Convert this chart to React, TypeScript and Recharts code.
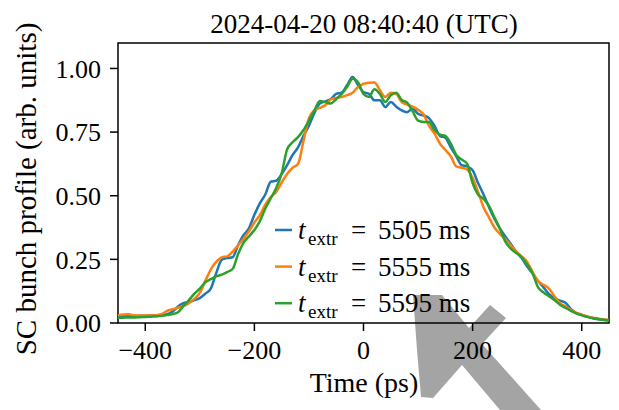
import React from "react";
import { LineChart, Line, XAxis, YAxis, ReferenceArea, Customized } from "recharts";

// bunch profile samples, one value per time bin (ps)
const timePs = [
  -450, -440, -430, -420, -410, -400, -390, -380, -370, -360,
  -350, -340, -330, -320, -310, -300, -290, -280, -270, -260,
  -250, -240, -230, -220, -210, -200, -190, -180, -170, -160,
  -150, -140, -130, -120, -110, -100, -90, -80, -70, -60,
  -50, -40, -30, -20, -10, 0, 10, 20, 30, 40,
  50, 60, 70, 80, 90, 100, 110, 120, 130, 140,
  150, 160, 170, 180, 190, 200, 210, 220, 230, 240,
  250, 260, 270, 280, 290, 300, 310, 320, 330, 340,
  350, 360, 370, 380, 390, 400, 410, 420, 430, 440,
  450,
];

const profile5505 = [
  0.025, 0.026, 0.027, 0.027, 0.028, 0.028, 0.029, 0.030, 0.032, 0.035,
  0.045, 0.065, 0.078, 0.082, 0.090, 0.098, 0.115, 0.135, 0.196, 0.248,
  0.255, 0.258, 0.305, 0.345, 0.372, 0.425, 0.470, 0.505, 0.555, 0.559,
  0.585, 0.620, 0.660, 0.690, 0.735, 0.775, 0.825, 0.862, 0.870, 0.880,
  0.900, 0.905, 0.935, 0.966, 0.935, 0.907, 0.900, 0.875, 0.875, 0.848,
  0.868, 0.850, 0.835, 0.828, 0.842, 0.822, 0.815, 0.805, 0.775, 0.735,
  0.728, 0.690, 0.655, 0.620, 0.615, 0.600, 0.550, 0.505, 0.455, 0.410,
  0.372, 0.340, 0.310, 0.280, 0.255, 0.222, 0.195, 0.165, 0.140, 0.113,
  0.098, 0.088, 0.080, 0.055, 0.039, 0.032, 0.025, 0.020, 0.016, 0.012,
  0.010,
];

const profile5555 = [
  0.030, 0.033, 0.034, 0.030, 0.029, 0.029, 0.029, 0.030, 0.035, 0.048,
  0.054, 0.060, 0.066, 0.078, 0.095, 0.118, 0.165, 0.210, 0.240, 0.258,
  0.262, 0.280, 0.305, 0.330, 0.360, 0.395, 0.424, 0.465, 0.495, 0.515,
  0.552, 0.585, 0.610, 0.625, 0.715, 0.805, 0.835, 0.845, 0.855, 0.878,
  0.884, 0.888, 0.895, 0.905, 0.927, 0.940, 0.944, 0.945, 0.915, 0.888,
  0.905, 0.900, 0.868, 0.858, 0.850, 0.838, 0.820, 0.775, 0.745, 0.705,
  0.680, 0.655, 0.615, 0.610, 0.603, 0.570, 0.515, 0.455, 0.415, 0.375,
  0.350, 0.330, 0.305, 0.280, 0.262, 0.240, 0.200, 0.165, 0.150, 0.135,
  0.105, 0.078, 0.065, 0.052, 0.040, 0.033, 0.026, 0.021, 0.018, 0.014,
  0.012,
];

const profile5595 = [
  0.020, 0.021, 0.022, 0.022, 0.023, 0.024, 0.025, 0.026, 0.028, 0.031,
  0.035, 0.042, 0.067, 0.090, 0.115, 0.135, 0.160, 0.172, 0.183, 0.190,
  0.200, 0.212, 0.270, 0.315, 0.340, 0.365, 0.400, 0.450, 0.490, 0.530,
  0.588, 0.682, 0.710, 0.730, 0.758, 0.795, 0.835, 0.872, 0.868, 0.862,
  0.880, 0.900, 0.928, 0.960, 0.946, 0.900, 0.888, 0.918, 0.900, 0.868,
  0.895, 0.905, 0.876, 0.866, 0.832, 0.795, 0.790, 0.790, 0.758, 0.740,
  0.735, 0.705, 0.660, 0.642, 0.625, 0.550, 0.505, 0.488, 0.460, 0.415,
  0.370, 0.320, 0.292, 0.275, 0.258, 0.230, 0.195, 0.140, 0.120, 0.105,
  0.090, 0.072, 0.060, 0.048, 0.038, 0.030, 0.024, 0.019, 0.015, 0.013,
  0.012,
];

const extractionMs = [5505, 5555, 5595];
const seriesKeys = ["p5505", "p5555", "p5595"];
const seriesColors = ["#1f77b4", "#ff7f0e", "#2ca02c"];

const xTicks = [-400, -200, 0, 200, 400];
const yTicks = [0, 0.25, 0.5, 0.75, 1.0];

const data = timePs.map((t, i) => ({
  t,
  p5505: profile5505[i],
  p5555: profile5555[i],
  p5595: profile5595[i],
}));

const FONT = "'Liberation Serif', 'Times New Roman', serif";

const fmtX = (v: number) => (v < 0 ? `\u2212${Math.abs(v)}` : `${v}`);
const fmtY = (v: number) => v.toFixed(2);

// title, axis labels and the legend box, in page pixels
function Annotations() {
  return (
    <g style={{ fontFamily: FONT }} fill="#000">
      <text x={364} y={33} fontSize={27} textAnchor="middle">
        2024-04-20 08:40:40 (UTC)
      </text>
      <text x={364} y={392} fontSize={28} textAnchor="middle">
        Time (ps)
      </text>
      <text
        transform="translate(36, 189) rotate(-90)"
        fontSize={29}
        textAnchor="middle"
      >
        SC bunch profile (arb. units)
      </text>
      {extractionMs.map((ms, i) => {
        const y = 230 + i * 36.6;
        return (
          <g key={ms}>
            <line x1={275} x2={292} y1={y} y2={y} stroke={seriesColors[i]} strokeWidth={2.5} />
            <text x={298} y={y + 9} fontSize={27}>
              <tspan fontStyle="italic">t</tspan>
              <tspan x={308} dy={6} fontSize={19}>extr</tspan>
              <tspan x={351} dy={-6}>=</tspan>
              <tspan x={378}>{ms} ms</tspan>
            </text>
          </g>
        );
      })}
    </g>
  );
}

// grey cross stamped over the lower right of the figure
function Stamp() {
  const pts = [
    [413, 295], [442, 295], [469, 328], [490, 305], [506, 318], [482, 344],
    [541, 410], [500, 410], [462, 365], [433, 398], [421, 397], [417, 350],
  ];
  return (
    <svg width={619} height={410} style={{ position: "absolute", left: 0, top: 0 }}>
      <polygon points={pts.map((p) => p.join(",")).join(" ")} fill="#a4a4a4" />
    </svg>
  );
}

export default function App() {
  return (
    <div
      style={{
        position: "absolute",
        left: 0,
        top: 0,
        width: 619,
        height: 410,
        background: "#fff",
        fontFamily: FONT,
      }}
    >
      <Stamp />
      <LineChart
        width={619}
        height={410}
        data={data}
        margin={{ top: 43, right: 10, bottom: 0, left: 0 }}
        style={{ fontFamily: FONT }}
      >
        <XAxis
          dataKey="t"
          type="number"
          domain={[-450, 450]}
          ticks={xTicks}
          tickFormatter={fmtX}
          allowDataOverflow
          axisLine={false}
          tickLine={{ stroke: "#000", strokeWidth: 1.5 }}
          tickSize={8}
          tickMargin={10}
          height={87}
          tick={{ fill: "#000", fontSize: 26, fontFamily: FONT }}
        />
        <YAxis
          type="number"
          domain={[0, 1.1]}
          ticks={yTicks}
          tickFormatter={fmtY}
          allowDataOverflow
          axisLine={false}
          tickLine={{ stroke: "#000", strokeWidth: 1.5 }}
          tickSize={8}
          tickMargin={9}
          width={118}
          tick={{ fill: "#000", fontSize: 26, fontFamily: FONT }}
        />
        {seriesKeys.map((k, i) => (
          <Line
            key={k}
            dataKey={k}
            type="monotone"
            stroke={seriesColors[i]}
            strokeWidth={2.5}
            dot={false}
            isAnimationActive={false}
          />
        ))}
        <ReferenceArea
          x1={-450}
          x2={450}
          y1={0}
          y2={1.1}
          fill="none"
          stroke="#000"
          strokeWidth={1.5}
          ifOverflow="visible"
        />
        <Customized component={Annotations} />
      </LineChart>
    </div>
  );
}
